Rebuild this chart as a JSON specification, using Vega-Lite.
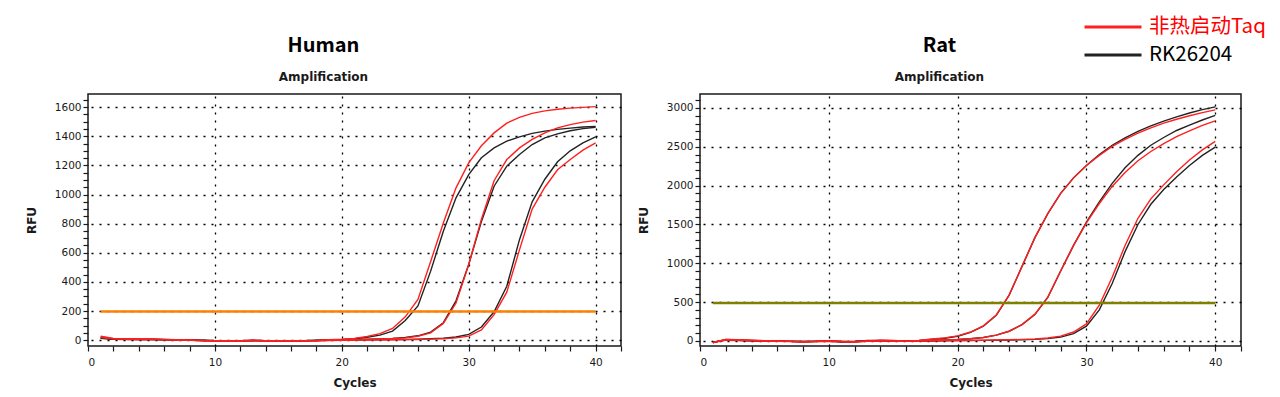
{
  "$schema": "https://vega.github.io/schema/vega-lite/v6.json",
  "background": "white",
  "padding": {"left": 24, "top": 16, "right": 10, "bottom": 6},
  "bounds": "flush",
  "spacing": 79,
  "config": {
    "view": {"stroke": "#1a1a1a", "strokeWidth": 1.5},
    "axis": {"labelFont": "DejaVu Sans", "labelFontSize": 10.5, "labelColor": "#1a1a1a", "titleFont": "DejaVu Sans", "titleFontSize": 12, "titleFontWeight": "bold", "titleColor": "#1a1a1a", "domain": false, "tickColor": "#1a1a1a", "tickWidth": 1.2, "grid": false},
    "title": {"font": "Noto Sans CJK SC", "fontSize": 20, "fontWeight": "bold", "color": "#000000", "subtitleFont": "DejaVu Sans", "subtitleFontSize": 12, "subtitleFontWeight": "bold", "subtitleColor": "#1a1a1a", "subtitlePadding": 16, "offset": 11, "anchor": "middle", "frame": "bounds"}
  },
  "resolve": {"scale": {"color": "shared", "x": "independent", "y": "independent"}},
  "datasets": {
    "human": [
      {"c":1,"hb1":18,"hb2":15,"hb3":12,"hr1":28,"hr2":22,"hr3":20},
      {"c":2,"hb1":8,"hb2":7,"hb3":6,"hr1":12,"hr2":10,"hr3":9},
      {"c":3,"hb1":7,"hb2":6,"hb3":5,"hr1":9,"hr2":8,"hr3":7},
      {"c":4,"hb1":6,"hb2":5,"hb3":4,"hr1":8,"hr2":6,"hr3":5},
      {"c":5,"hb1":6,"hb2":5,"hb3":4,"hr1":7,"hr2":6,"hr3":5},
      {"c":6,"hb1":5,"hb2":4,"hb3":3,"hr1":5,"hr2":4,"hr3":4},
      {"c":7,"hb1":3,"hb2":2,"hb3":1,"hr1":2,"hr2":2,"hr3":1},
      {"c":8,"hb1":1,"hb2":0,"hb3":0,"hr1":0,"hr2":-1,"hr3":-1},
      {"c":9,"hb1":-1,"hb2":-2,"hb3":-2,"hr1":-2,"hr2":-3,"hr3":-3},
      {"c":10,"hb1":-3,"hb2":-3,"hb3":-4,"hr1":-4,"hr2":-4,"hr3":-5},
      {"c":11,"hb1":-3,"hb2":-4,"hb3":-4,"hr1":-5,"hr2":-5,"hr3":-6},
      {"c":12,"hb1":-4,"hb2":-4,"hb3":-5,"hr1":-5,"hr2":-6,"hr3":-6},
      {"c":13,"hb1":-2,"hb2":-2,"hb3":-3,"hr1":-1,"hr2":-2,"hr3":-2},
      {"c":14,"hb1":-3,"hb2":-3,"hb3":-4,"hr1":-4,"hr2":-4,"hr3":-5},
      {"c":15,"hb1":-4,"hb2":-4,"hb3":-5,"hr1":-5,"hr2":-5,"hr3":-6},
      {"c":16,"hb1":-4,"hb2":-4,"hb3":-4,"hr1":-4,"hr2":-5,"hr3":-5},
      {"c":17,"hb1":-3,"hb2":-4,"hb3":-4,"hr1":-4,"hr2":-4,"hr3":-5},
      {"c":18,"hb1":-1,"hb2":-2,"hb3":-3,"hr1":-2,"hr2":-3,"hr3":-4},
      {"c":19,"hb1":2,"hb2":0,"hb3":-1,"hr1":3,"hr2":0,"hr3":-2},
      {"c":20,"hb1":5,"hb2":2,"hb3":0,"hr1":6,"hr2":2,"hr3":-1},
      {"c":21,"hb1":10,"hb2":4,"hb3":1,"hr1":12,"hr2":3,"hr3":0},
      {"c":22,"hb1":20,"hb2":6,"hb3":2,"hr1":25,"hr2":5,"hr3":1},
      {"c":23,"hb1":35,"hb2":9,"hb3":3,"hr1":45,"hr2":8,"hr3":2},
      {"c":24,"hb1":62,"hb2":12,"hb3":4,"hr1":80,"hr2":11,"hr3":3},
      {"c":25,"hb1":135,"hb2":18,"hb3":5,"hr1":160,"hr2":16,"hr3":4},
      {"c":26,"hb1":235,"hb2":30,"hb3":7,"hr1":280,"hr2":27,"hr3":5},
      {"c":27,"hb1":474,"hb2":55,"hb3":10,"hr1":540,"hr2":50,"hr3":7},
      {"c":28,"hb1":748,"hb2":120,"hb3":14,"hr1":805,"hr2":115,"hr3":10},
      {"c":29,"hb1":977,"hb2":270,"hb3":22,"hr1":1046,"hr2":255,"hr3":16},
      {"c":30,"hb1":1137,"hb2":520,"hb3":40,"hr1":1217,"hr2":520,"hr3":28},
      {"c":31,"hb1":1252,"hb2":815,"hb3":90,"hr1":1335,"hr2":830,"hr3":70},
      {"c":32,"hb1":1320,"hb2":1057,"hb3":195,"hr1":1423,"hr2":1095,"hr3":175},
      {"c":33,"hb1":1366,"hb2":1195,"hb3":370,"hr1":1490,"hr2":1240,"hr3":330},
      {"c":34,"hb1":1396,"hb2":1275,"hb3":690,"hr1":1530,"hr2":1320,"hr3":620},
      {"c":35,"hb1":1420,"hb2":1343,"hb3":950,"hr1":1557,"hr2":1378,"hr3":900},
      {"c":36,"hb1":1435,"hb2":1389,"hb3":1105,"hr1":1574,"hr2":1423,"hr3":1050},
      {"c":37,"hb1":1447,"hb2":1416,"hb3":1225,"hr1":1585,"hr2":1458,"hr3":1170},
      {"c":38,"hb1":1456,"hb2":1438,"hb3":1300,"hr1":1593,"hr2":1480,"hr3":1240},
      {"c":39,"hb1":1463,"hb2":1452,"hb3":1355,"hr1":1598,"hr2":1497,"hr3":1305},
      {"c":40,"hb1":1468,"hb2":1462,"hb3":1396,"hr1":1603,"hr2":1508,"hr3":1355}
    ],
    "rat": [
      {"c":1,"rb1":-20,"rb2":-15,"rb3":-18,"rr1":-25,"rr2":-20,"rr3":-22},
      {"c":2,"rb1":15,"rb2":12,"rb3":10,"rr1":20,"rr2":18,"rr3":15},
      {"c":3,"rb1":10,"rb2":8,"rb3":6,"rr1":15,"rr2":12,"rr3":10},
      {"c":4,"rb1":5,"rb2":4,"rb3":3,"rr1":8,"rr2":6,"rr3":5},
      {"c":5,"rb1":3,"rb2":2,"rb3":0,"rr1":3,"rr2":2,"rr3":0},
      {"c":6,"rb1":0,"rb2":-2,"rb3":-3,"rr1":0,"rr2":-2,"rr3":-3},
      {"c":7,"rb1":-5,"rb2":-6,"rb3":-6,"rr1":-5,"rr2":-6,"rr3":-8},
      {"c":8,"rb1":-8,"rb2":-8,"rb3":-10,"rr1":-10,"rr2":-10,"rr3":-12},
      {"c":9,"rb1":-5,"rb2":-6,"rb3":-6,"rr1":-6,"rr2":-8,"rr3":-8},
      {"c":10,"rb1":0,"rb2":-2,"rb3":-3,"rr1":0,"rr2":-2,"rr3":-3},
      {"c":11,"rb1":-8,"rb2":-10,"rb3":-10,"rr1":-5,"rr2":-8,"rr3":-10},
      {"c":12,"rb1":-5,"rb2":-8,"rb3":-10,"rr1":-10,"rr2":-10,"rr3":-12},
      {"c":13,"rb1":5,"rb2":2,"rb3":0,"rr1":0,"rr2":-2,"rr3":-4},
      {"c":14,"rb1":5,"rb2":2,"rb3":0,"rr1":10,"rr2":5,"rr3":2},
      {"c":15,"rb1":2,"rb2":0,"rb3":-2,"rr1":5,"rr2":2,"rr3":0},
      {"c":16,"rb1":2,"rb2":0,"rb3":-2,"rr1":-2,"rr2":-4,"rr3":-5},
      {"c":17,"rb1":8,"rb2":3,"rb3":0,"rr1":8,"rr2":3,"rr3":0},
      {"c":18,"rb1":20,"rb2":8,"rb3":0,"rr1":25,"rr2":10,"rr3":2},
      {"c":19,"rb1":35,"rb2":12,"rb3":3,"rr1":40,"rr2":14,"rr3":5},
      {"c":20,"rb1":60,"rb2":18,"rb3":5,"rr1":65,"rr2":20,"rr3":6},
      {"c":21,"rb1":110,"rb2":28,"rb3":6,"rr1":115,"rr2":30,"rr3":8},
      {"c":22,"rb1":190,"rb2":45,"rb3":8,"rr1":195,"rr2":45,"rr3":10},
      {"c":23,"rb1":330,"rb2":75,"rb3":10,"rr1":335,"rr2":75,"rr3":12},
      {"c":24,"rb1":590,"rb2":125,"rb3":12,"rr1":590,"rr2":125,"rr3":15},
      {"c":25,"rb1":960,"rb2":210,"rb3":15,"rr1":960,"rr2":210,"rr3":20},
      {"c":26,"rb1":1330,"rb2":340,"rb3":20,"rr1":1330,"rr2":345,"rr3":25},
      {"c":27,"rb1":1640,"rb2":560,"rb3":30,"rr1":1640,"rr2":565,"rr3":38},
      {"c":28,"rb1":1900,"rb2":900,"rb3":50,"rr1":1900,"rr2":900,"rr3":62},
      {"c":29,"rb1":2100,"rb2":1230,"rb3":95,"rr1":2100,"rr2":1230,"rr3":115},
      {"c":30,"rb1":2260,"rb2":1530,"rb3":190,"rr1":2260,"rr2":1520,"rr3":220},
      {"c":31,"rb1":2400,"rb2":1790,"rb3":400,"rr1":2390,"rr2":1770,"rr3":460},
      {"c":32,"rb1":2520,"rb2":2030,"rb3":740,"rr1":2505,"rr2":1990,"rr3":820},
      {"c":33,"rb1":2615,"rb2":2230,"rb3":1150,"rr1":2595,"rr2":2170,"rr3":1230},
      {"c":34,"rb1":2700,"rb2":2390,"rb3":1500,"rr1":2675,"rr2":2320,"rr3":1580},
      {"c":35,"rb1":2770,"rb2":2520,"rb3":1760,"rr1":2745,"rr2":2440,"rr3":1830},
      {"c":36,"rb1":2830,"rb2":2620,"rb3":1950,"rr1":2805,"rr2":2540,"rr3":2010},
      {"c":37,"rb1":2885,"rb2":2710,"rb3":2110,"rr1":2855,"rr2":2630,"rr3":2180},
      {"c":38,"rb1":2935,"rb2":2780,"rb3":2260,"rr1":2900,"rr2":2705,"rr3":2330},
      {"c":39,"rb1":2978,"rb2":2845,"rb3":2390,"rr1":2940,"rr2":2775,"rr3":2460},
      {"c":40,"rb1":3015,"rb2":2905,"rb3":2495,"rr1":2975,"rr2":2835,"rr3":2570}
    ]
  },
  "hconcat": [
    {
      "width": 533,
      "height": 252,
      "title": {"text": "Human", "subtitle": "Amplification"},
      "data": {"name": "human"},
      "resolve": {"axis": {"x": "independent", "y": "independent"}},
      "layer": [
        {
          "transform": [{"fold": ["hb1", "hb2", "hb3"], "as": ["k", "v"]}],
          "mark": {"type": "line", "strokeWidth": 1.4},
          "encoding": {
            "x": {"field": "c", "type": "quantitative", "scale": {"domain": [0, 42], "nice": false, "zero": false},
              "axis": {"orient": "bottom", "values": [0,2,4,6,8,10,12,14,16,18,20,22,24,26,28,30,32,34,36,38,40,42], "labelExpr": "datum.value % 10 == 0 ? datum.label : ''", "tickSize": 5, "labelPadding": 6, "title": "Cycles", "titlePadding": 10}},
            "y": {"field": "v", "type": "quantitative", "scale": {"domain": [-40, 1690], "nice": false, "zero": false},
              "axis": {"orient": "left", "values": [0,50,100,150,200,250,300,350,400,450,500,550,600,650,700,750,800,850,900,950,1000,1050,1100,1150,1200,1250,1300,1350,1400,1450,1500,1550,1600,1650], "labelExpr": "datum.value % 200 == 0 ? datum.label : ''", "format": "d", "tickSize": 5, "labelPadding": 2, "title": "RFU", "titlePadding": 16}},
            "detail": {"field": "k", "type": "nominal"},
            "color": {"datum": "RK26204", "type": "nominal",
              "scale": {"domain": ["非热启动Taq", "RK26204"], "range": ["#ff1f1f", "#222222"]},
              "legend": {"orient": "none", "legendX": 1014, "legendY": -78, "title": null, "symbolType": "M-3,0H3", "symbolStrokeWidth": 3, "symbolSize": 361, "labelFont": "Noto Sans CJK SC", "labelFontSize": 20.5, "labelOffset": 25, "rowPadding": 6, "labelColor": {"expr": "datum.label == 'RK26204' ? '#000000' : '#ff0000'"}}}
          }
        },
        {
          "transform": [{"fold": ["hr1", "hr2", "hr3"], "as": ["k", "v"]}],
          "mark": {"type": "line", "strokeWidth": 1.4},
          "encoding": {
            "x": {"field": "c", "type": "quantitative",
              "axis": {"orient": "top", "values": [10, 20, 30, 40], "grid": true, "gridDash": [2, 6], "gridColor": "#000000", "gridWidth": 1.3, "gridOpacity": 1, "labels": false, "ticks": false, "domain": false, "title": null}},
            "y": {"field": "v", "type": "quantitative",
              "axis": {"orient": "right", "values": [0,200,400,600,800,1000,1200,1400,1600], "grid": true, "gridDash": [2, 6], "gridColor": "#000000", "gridWidth": 1.3, "gridOpacity": 1, "labels": false, "ticks": false, "domain": false, "title": null}},
            "detail": {"field": "k", "type": "nominal"},
            "color": {"datum": "非热启动Taq", "type": "nominal"}
          }
        },
        {
          "data": {"values": [{"c": 1, "c2": 40, "t": 197}]},
          "mark": {"type": "rule", "color": "#ff8000", "strokeWidth": 2.5},
          "encoding": {
            "x": {"field": "c", "type": "quantitative", "axis": null},
            "x2": {"field": "c2"},
            "y": {"field": "t", "type": "quantitative", "axis": null}
          }
        }
      ]
    },
    {
      "width": 541,
      "height": 252,
      "title": {"text": "Rat", "subtitle": "Amplification"},
      "data": {"name": "rat"},
      "resolve": {"axis": {"x": "independent", "y": "independent"}},
      "layer": [
        {
          "transform": [{"fold": ["rb1", "rb2", "rb3"], "as": ["k", "v"]}],
          "mark": {"type": "line", "strokeWidth": 1.4},
          "encoding": {
            "x": {"field": "c", "type": "quantitative", "scale": {"domain": [0, 42], "nice": false, "zero": false},
              "axis": {"orient": "bottom", "values": [0,2,4,6,8,10,12,14,16,18,20,22,24,26,28,30,32,34,36,38,40,42], "labelExpr": "datum.value % 10 == 0 ? datum.label : ''", "tickSize": 5, "labelPadding": 6, "title": "Cycles", "titlePadding": 10}},
            "y": {"field": "v", "type": "quantitative", "scale": {"domain": [-65, 3180], "nice": false, "zero": false},
              "axis": {"orient": "left", "values": [0,100,200,300,400,500,600,700,800,900,1000,1100,1200,1300,1400,1500,1600,1700,1800,1900,2000,2100,2200,2300,2400,2500,2600,2700,2800,2900,3000,3100], "labelExpr": "datum.value % 500 == 0 ? datum.label : ''", "format": "d", "tickSize": 5, "labelPadding": 2, "title": "RFU", "titlePadding": 16}},
            "detail": {"field": "k", "type": "nominal"},
            "color": {"datum": "RK26204", "type": "nominal"}
          }
        },
        {
          "transform": [{"fold": ["rr1", "rr2", "rr3"], "as": ["k", "v"]}],
          "mark": {"type": "line", "strokeWidth": 1.4},
          "encoding": {
            "x": {"field": "c", "type": "quantitative",
              "axis": {"orient": "top", "values": [10, 20, 30, 40], "grid": true, "gridDash": [2, 6], "gridColor": "#000000", "gridWidth": 1.3, "gridOpacity": 1, "labels": false, "ticks": false, "domain": false, "title": null}},
            "y": {"field": "v", "type": "quantitative",
              "axis": {"orient": "right", "values": [0,500,1000,1500,2000,2500,3000], "grid": true, "gridDash": [2, 6], "gridColor": "#000000", "gridWidth": 1.3, "gridOpacity": 1, "labels": false, "ticks": false, "domain": false, "title": null}},
            "detail": {"field": "k", "type": "nominal"},
            "color": {"datum": "非热启动Taq", "type": "nominal"}
          }
        },
        {
          "data": {"values": [{"c": 1, "c2": 40, "t": 490}]},
          "mark": {"type": "rule", "color": "#808000", "strokeWidth": 2.5},
          "encoding": {
            "x": {"field": "c", "type": "quantitative", "axis": null},
            "x2": {"field": "c2"},
            "y": {"field": "t", "type": "quantitative", "axis": null}
          }
        }
      ]
    }
  ]
}
